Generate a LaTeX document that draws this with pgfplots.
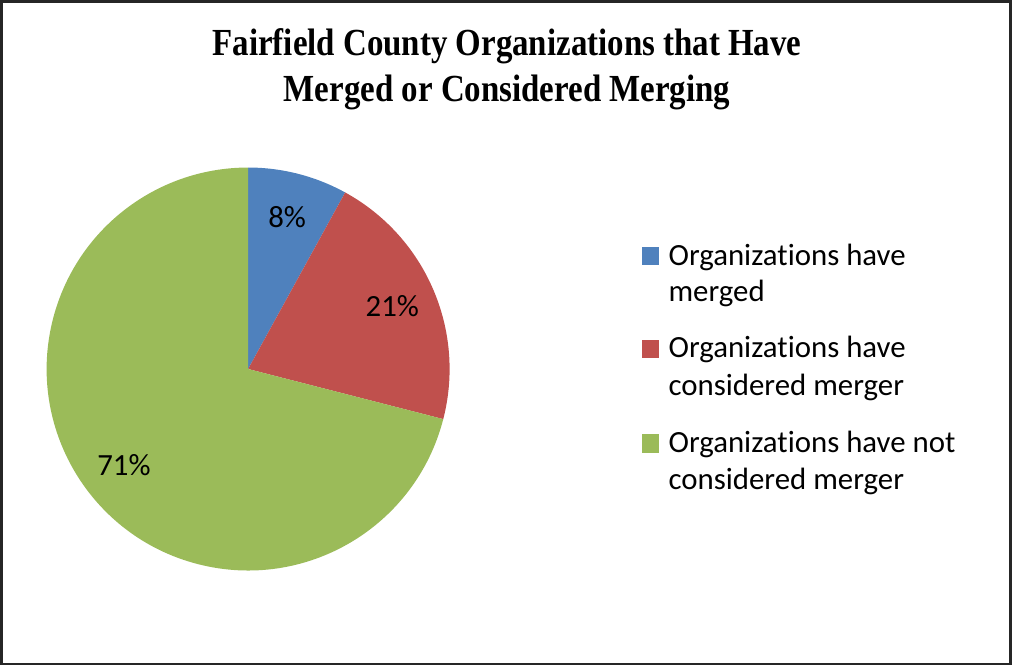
\documentclass[border=0pt]{standalone}
\usepackage{pgfplots}
\pgfplotsset{compat=1.18}
\usepackage{pgfplotstable}
\usepackage{fontspec}
\setmainfont[Ligatures={NoCommon}]{Carlito}
\newfontfamily\titlefont[FakeStretch=0.86]{Liberation Serif}
\definecolor{cblue}{HTML}{4F81BD}
\definecolor{cred}{HTML}{C0504D}
\definecolor{cgreen}{HTML}{9BBB59}
\pgfplotstableread{
label value
merged 8
considered 21
notconsidered 71
}\piedata
\begin{document}
\begin{tikzpicture}
\pgfplotstablegetelem{0}{value}\of\piedata \let\va\pgfplotsretval
\pgfplotstablegetelem{1}{value}\of\piedata \let\vb\pgfplotsretval
\pgfplotstablegetelem{2}{value}\of\piedata \let\vc\pgfplotsretval
\pgfmathsetmacro\aa{90}
\pgfmathsetmacro\ab{\aa-3.6*\va}
\pgfmathsetmacro\ac{\ab-3.6*\vb}
\pgfmathsetmacro\ad{\ac-3.6*\vc}
\pgfmathsetmacro\ma{(\aa+\ab)/2}
\pgfmathsetmacro\mb{(\ab+\ac)/2}
\pgfmathsetmacro\mc{(\ac+\ad)/2}
\begin{axis}[at={(0,0)}, anchor=south west, width=506pt, height=333pt,
  scale only axis, xmin=0, xmax=1012, ymin=0, ymax=666, hide axis, clip=false]
\draw[line width=1.3pt, color=black!85] (axis cs:5,4) rectangle (axis cs:1007,662);
\fill[cblue] (axis cs:250,297) -- ++(\aa:100pt) arc[start angle=\aa, end angle=\ab, radius=100pt] -- cycle;
\fill[cred] (axis cs:250,297) -- ++(\ab:100pt) arc[start angle=\ab, end angle=\ac, radius=100pt] -- cycle;
\fill[cgreen] (axis cs:250,297) -- ++(\ac:100pt) arc[start angle=\ac, end angle=\ad, radius=100pt] -- cycle;
\node[font=\fontsize{15.3}{18}\selectfont, shift={(\ma:78pt)}] at (axis cs:250,297) {\va\%};
\node[font=\fontsize{15.3}{18}\selectfont, shift={(\mb:78pt)}] at (axis cs:250,297) {\vb\%};
\node[font=\fontsize{15.3}{18}\selectfont, shift={(\mc:78pt)}] at (axis cs:250,297) {\vc\%};
% title
\node[anchor=base, inner sep=0pt, font=\titlefont\bfseries\fontsize{19}{22}\selectfont] at (axis cs:507,608) {Fairfield County Organizations that Have};
\node[anchor=base, inner sep=0pt, font=\titlefont\bfseries\fontsize{19}{22}\selectfont] at (axis cs:507,563) {Merged or Considered Merging};
% legend
\fill[cblue] (axis cs:641,400) rectangle (axis cs:658,418);
\fill[cred] (axis cs:641,308) rectangle (axis cs:658,326);
\fill[cgreen] (axis cs:641,214) rectangle (axis cs:658,232);
\begin{scope}[every node/.style={anchor=base west, inner sep=0pt, font=\fontsize{15.3}{18}\selectfont}]
\node at (axis cs:667,400) {Organizations have};
\node at (axis cs:667,364) {merged};
\node at (axis cs:667,308) {Organizations have};
\node at (axis cs:667,271) {considered merger};
\node at (axis cs:667,214) {Organizations have not};
\node at (axis cs:667,177) {considered merger};
\end{scope}
\end{axis}
\end{tikzpicture}
\end{document}
